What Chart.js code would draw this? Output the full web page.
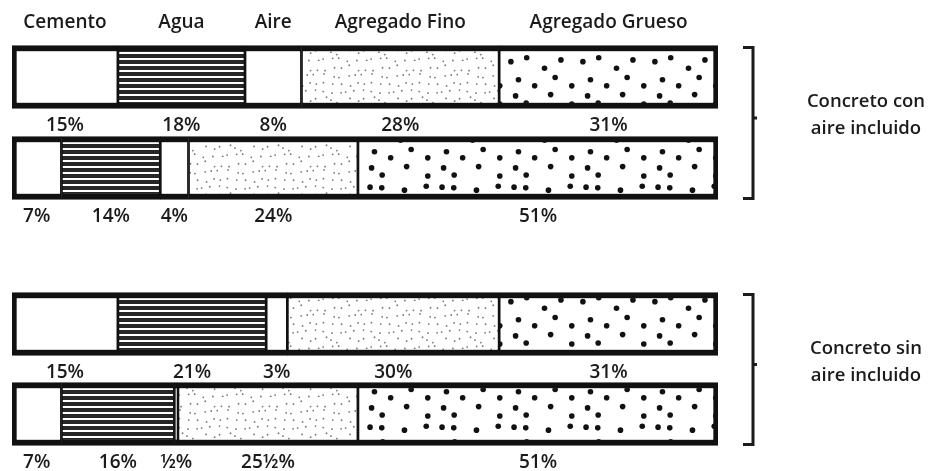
<!DOCTYPE html>
<html>
<head>
<meta charset="utf-8">
<script src="https://cdn.jsdelivr.net/npm/chart.js@4.4.0/dist/chart.umd.min.js"></script>
<style>
  body { margin: 0; background: #fff; }
  #wrap { position: relative; width: 933px; height: 471px; }
  #wrap canvas { position: absolute; left: 0; }
  #conAire { top: 0; }
  #sinAire { top: 240px; }
</style>
</head>
<body>
<div id="wrap">
  <canvas id="conAire" width="933" height="240"></canvas>
  <canvas id="sinAire" width="933" height="231"></canvas>
</div>
<script>
// components of the mix (volume %)
const components = ['Cemento', 'Agua', 'Aire', 'Agregado Fino', 'Agregado Grueso'];

// concreto con aire incluido
const conAireRich = [15, 18, 8, 28, 31];
const conAireLean = [7, 14, 4, 24, 51];
// concreto sin aire incluido
const sinAireRich = [15, 21, 3, 30, 31];
const sinAireLean = [7, 16, 0.5, 25.5, 51];

const groupCon = ['Concreto con', 'aire incluido'];
const groupSin = ['Concreto sin', 'aire incluido'];

const FONT = '"Open Sans", Lato, sans-serif';
const INK = '#1b1b1b';

// simple repeatable jitter for the textures
let seed = 7;
function rnd() {
  seed = (seed * 16807) % 2147483647;
  return (seed - 1) / 2147483646;
}

function stripes() {
  const c = document.createElement('canvas');
  c.width = 8; c.height = 6;
  const g = c.getContext('2d');
  g.fillStyle = '#fff'; g.fillRect(0, 0, 8, 6);
  g.fillStyle = '#262626'; g.fillRect(0, 0, 8, 4);
  return g.createPattern(c, 'repeat');
}

function dots(size, cells, r, color) {
  const c = document.createElement('canvas');
  c.width = size; c.height = size;
  const g = c.getContext('2d');
  g.fillStyle = '#fff'; g.fillRect(0, 0, size, size);
  g.fillStyle = color;
  const step = size / cells;
  for (let i = 0; i < cells; i++) {
    for (let j = 0; j < cells; j++) {
      const x = i * step + r + rnd() * (step - 2 * r);
      const y = j * step + r + rnd() * (step - 2 * r);
      g.beginPath(); g.arc(x, y, r, 0, Math.PI * 2); g.fill();
    }
  }
  return g.createPattern(c, 'repeat');
}

const fills = [
  '#ffffff',
  stripes(),
  '#ffffff',
  dots(48, 6, 0.9, '#777'),
  dots(72, 4, 2.8, '#111')
];

function fmt(v) {
  const whole = Math.floor(v);
  const half = v - whole === 0.5;
  return (whole ? whole : '') + (half ? '½' : '') + '%';
}

function makeChart(id, rows, groupLines, showHeader, padTop, padBottom) {
  const last = components.length - 1;
  const datasets = components.map((name, i) => ({
    label: name,
    data: rows.map(r => r[i]),
    backgroundColor: fills[i],
    borderColor: '#111',
    borderWidth: ctx => ({
      top: 6, bottom: 6,
      left: ctx.datasetIndex === 0 ? 5 : 1.7,
      right: ctx.datasetIndex === last ? 5 : 1.7
    }),
    borderSkipped: false,
    barThickness: 63
  }));

  const labelsPlugin = {
    id: 'labels' + id,
    afterDraw(chart) {
      const ctx = chart.ctx;
      const metas = chart.getSortedVisibleDatasetMetas();
      ctx.save();
      ctx.fillStyle = INK;
      ctx.textAlign = 'center';
      ctx.textBaseline = 'middle';

      rows.forEach((row, j) => {
        metas.forEach((meta, i) => {
          const el = meta.data[j].getProps(['x', 'y', 'base', 'height'], true);
          const cx = (el.x + el.base) / 2;
          ctx.font = '600 19px ' + FONT;
          ctx.fillText(fmt(row[i]), cx, el.y + el.height / 2 + 17);
          if (showHeader && j === 0) {
            ctx.fillText(components[i], cx, el.y - el.height / 2 - 23);
          }
        });
      });

      // bracket on the right
      const first = metas[0].data[0];
      const lastEl = metas[0].data[rows.length - 1];
      const top = first.y - first.height / 2 + 2;
      const bottom = lastEl.y + lastEl.height / 2 - 1;
      const bx = chart.chartArea.right + 35;
      const mid = (top + bottom) / 2;
      ctx.strokeStyle = INK;
      ctx.lineWidth = 3;
      ctx.beginPath();
      ctx.moveTo(bx - 10, top);
      ctx.lineTo(bx, top);
      ctx.lineTo(bx, bottom);
      ctx.lineTo(bx - 10, bottom);
      ctx.moveTo(bx, mid - 5);
      ctx.lineTo(bx + 4, mid - 5);
      ctx.stroke();

      ctx.font = '600 18.5px ' + FONT;
      ctx.fillText(groupLines[0], 866, mid - 21);
      ctx.fillText(groupLines[1], 866, mid + 6);
      ctx.restore();
    }
  };

  return new Chart(document.getElementById(id), {
    type: 'bar',
    data: { labels: rows.map((r, j) => 'fila ' + (j + 1)), datasets },
    options: {
      indexAxis: 'y',
      responsive: false,
      animation: false,
      layout: { padding: { left: 12, right: 215, top: padTop, bottom: padBottom } },
      scales: {
        x: { stacked: true, min: 0, max: 100, display: false },
        y: { stacked: true, display: false }
      },
      plugins: { legend: { display: false }, tooltip: { enabled: false } }
    },
    plugins: [labelsPlugin]
  });
}

makeChart('conAire', [conAireRich, conAireLean], groupCon, true, 31.5, 26.5);
makeChart('sinAire', [sinAireRich, sinAireLean], groupSin, false, 39, 12);
</script>
</body>
</html>
